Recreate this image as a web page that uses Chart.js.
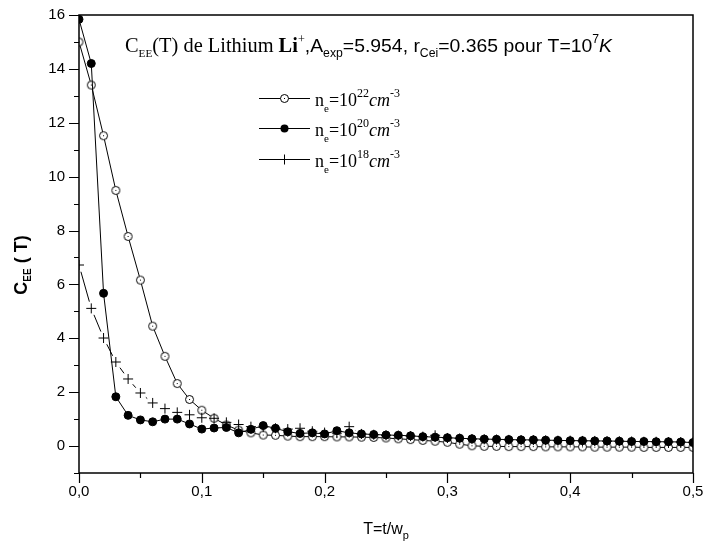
<!DOCTYPE html>
<html>
<head>
<meta charset="utf-8">
<script src="https://cdn.jsdelivr.net/npm/chart.js@4/dist/chart.umd.min.js"></script>
<style>
html,body{margin:0;padding:0;background:#fff;}
#wrap{width:708px;height:552px;position:relative;}
</style>
</head>
<body>
<div id="wrap"><canvas id="c"></canvas></div>
<script>
// ---- data ----
const tValues = [0.00,0.01,0.02,0.03,0.04,0.05,0.06,0.07,0.08,0.09,
  0.10,0.11,0.12,0.13,0.14,0.15,0.16,0.17,0.18,0.19,
  0.20,0.21,0.22,0.23,0.24,0.25,0.26,0.27,0.28,0.29,
  0.30,0.31,0.32,0.33,0.34,0.35,0.36,0.37,0.38,0.39,
  0.40,0.41,0.42,0.43,0.44,0.45,0.46,0.47,0.48,0.49,0.50];
const ne22 = [15.0,13.4,11.52,9.49,7.78,6.16,4.45,3.33,2.32,1.73,
  1.33,1.03,0.78,0.59,0.49,0.41,0.40,0.37,0.35,0.35,
  0.35,0.34,0.34,0.33,0.32,0.30,0.27,0.24,0.21,0.18,
  0.14,0.07,0.01,-0.01,-0.01,-0.02,-0.02,-0.02,-0.03,-0.03,
  -0.03,-0.03,-0.04,-0.04,-0.04,-0.04,-0.05,-0.05,-0.05,-0.05,-0.05];
const ne20 = [15.84,14.2,5.67,1.83,1.14,0.97,0.90,1.0,1.0,0.82,
  0.63,0.67,0.69,0.49,0.62,0.76,0.66,0.53,0.47,0.49,
  0.45,0.57,0.49,0.45,0.43,0.41,0.40,0.38,0.35,0.33,
  0.31,0.29,0.27,0.26,0.25,0.24,0.23,0.23,0.22,0.21,
  0.20,0.20,0.19,0.19,0.18,0.17,0.17,0.16,0.16,0.15,0.13];
const ne18 = [6.72,5.11,4.01,3.12,2.49,1.97,1.60,1.39,1.25,1.16,
  1.05,1.03,0.88,0.80,0.72,0.70,0.66,0.63,0.66,0.55,
  0.50,0.48,0.72,0.45,0.42,0.40,0.39,0.37,0.35,0.40,
  0.30,0.28,0.26,0.25,0.24,0.23,0.22,0.22,0.21,0.20,
  0.20,0.19,0.19,0.18,0.18,0.17,0.16,0.16,0.15,0.15,0.14];
const xTickLabels = ['0,0','0,1','0,2','0,3','0,4','0,5'];
const yTickLabels = ['0','2','4','6','8','10','12','14','16'];
const legendExps = ['22','20','18'];

const SERIF = '"Liberation Serif", "DejaVu Serif", serif';
const SANS = '"Liberation Sans", Arial, sans-serif';

// open circle with centre dot
function makeOpenCircle(){
  const cv = document.createElement('canvas');
  cv.width = 11; cv.height = 11;
  const g = cv.getContext('2d');
  g.beginPath(); g.arc(5.5,5.5,4,0,Math.PI*2);
  g.fillStyle='#fff'; g.fill();
  g.lineWidth=1; g.strokeStyle='#000'; g.stroke();
  g.fillStyle='#000'; g.fillRect(5,5,1,1);
  return cv;
}
const openCircle = makeOpenCircle();

function pts(arr){ return tValues.map((t,i)=>({x:t,y:arr[i]})); }

function drawRuns(ctx, x, y, runs){
  let cx = x;
  for (const r of runs){
    ctx.font = r.f;
    ctx.fillText(r.t, cx, y + (r.dy||0));
    cx += ctx.measureText(r.t).width;
  }
  return cx - x;
}
function runsWidth(ctx, runs){
  let w=0; for (const r of runs){ ctx.font=r.f; w+=ctx.measureText(r.t).width; } return w;
}

const gapDash = (g) => (sc) => {
  const L = Math.hypot(sc.p1.x - sc.p0.x, sc.p1.y - sc.p0.y);
  if (L <= 2*g) return [0, L + 0.0001];
  return [0, g, L - 2*g, g];
};

const decor = {
  id:'decor',
  afterDraw(chart){
    const ctx = chart.ctx;
    const a = chart.chartArea;
    const xs = chart.scales.x, ys = chart.scales.y;
    ctx.save();
    ctx.strokeStyle='#000'; ctx.fillStyle='#000';
    // frame
    ctx.lineWidth = 1.5;
    ctx.strokeRect(a.left, a.top, a.right-a.left, a.bottom-a.top);
    // y ticks
    ctx.lineWidth = 1.2;
    ctx.beginPath();
    for (let v=-1; v<=16; v++){
      const p = Math.round(ys.getPixelForValue(v)) + 0.5;
      const len = (v>=0 && v%2===0) ? 10 : 5;
      ctx.moveTo(a.left, p); ctx.lineTo(a.left-len, p);
    }
    // x ticks
    for (let k=0; k<=10; k++){
      const v = k*0.05;
      const p = Math.round(xs.getPixelForValue(v)) + 0.5;
      const len = (k%2===0) ? 10 : 5;
      ctx.moveTo(p, a.bottom); ctx.lineTo(p, a.bottom+len);
    }
    ctx.stroke();

    // title
    ctx.textBaseline='alphabetic';
    const titleRuns = [
      {t:'C', f:'20px '+SERIF},
      {t:'EE', f:'11px '+SERIF, dy:5},
      {t:'(T) de Lithium ', f:'20px '+SERIF},
      {t:'Li', f:'bold 20px '+SERIF},
      {t:'+', f:'12px '+SERIF, dy:-9},
      {t:',A', f:'19px '+SANS},
      {t:'exp', f:'12px '+SANS, dy:5},
      {t:'=5.954, r', f:'19px '+SANS},
      {t:'Cei', f:'12px '+SANS, dy:5},
      {t:'=0.365 pour T=10', f:'19px '+SANS},
      {t:'7', f:'12px '+SANS, dy:-9},
      {t:'K', f:'italic 19px '+SANS}
    ];
    const tw = runsWidth(ctx, titleRuns);
    const sc = 487 / tw;
    ctx.save();
    ctx.translate(125, 52);
    ctx.scale(sc, 1);
    drawRuns(ctx, 0, 0, titleRuns);
    ctx.restore();

    // legend
    const rows = [98, 128, 159];
    rows.forEach((y,i)=>{
      ctx.lineWidth = 1;
      ctx.beginPath(); ctx.moveTo(259, y+0.5); ctx.lineTo(310, y+0.5); ctx.stroke();
      const mx = 284.5, my = y+0.5;
      if (i===0){
        ctx.drawImage(openCircle, mx-5.5, my-5.5);
      } else if (i===1){
        ctx.beginPath(); ctx.arc(mx,my,4,0,Math.PI*2); ctx.fill();
      } else {
        ctx.beginPath(); ctx.moveTo(mx-5,my); ctx.lineTo(mx+5,my); ctx.moveTo(mx,my-5); ctx.lineTo(mx,my+5); ctx.stroke();
      }
      drawRuns(ctx, 315, y+8, [
        {t:'n', f:'18px '+SERIF},
        {t:'e', f:'11px '+SERIF, dy:6},
        {t:'=10', f:'18px '+SERIF},
        {t:legendExps[i], f:'12px '+SERIF, dy:-9},
        {t:'cm', f:'italic 18px '+SERIF},
        {t:'-3', f:'12px '+SERIF, dy:-9}
      ]);
    });

    // x axis title
    const xRuns = [{t:'T=t/w', f:'16px '+SANS},{t:'p', f:'11px '+SANS, dy:5}];
    const xw = runsWidth(ctx, xRuns);
    drawRuns(ctx, (a.left+a.right)/2 - xw/2, 534, xRuns);

    // y axis title
    const yRuns = [{t:'C', f:'bold 18px '+SANS},{t:'EE', f:'bold 10px '+SANS, dy:4},{t:' ( T)', f:'bold 18px '+SANS}];
    const yw = runsWidth(ctx, yRuns);
    ctx.translate(27, 265);
    ctx.rotate(-Math.PI/2);
    drawRuns(ctx, -yw/2, 0, yRuns);
    ctx.restore();
  }
};

Chart.defaults.font.family = SANS;
Chart.defaults.color = '#000';

new Chart(document.getElementById('c'), {
  type:'line',
  data:{
    datasets:[
      { label:'n_e=10^18', data:pts(ne18), borderColor:'#000', borderWidth:1,
        pointStyle:'cross', pointRadius:5, pointBorderWidth:1, pointBorderColor:'#000',
        segment:{ borderDash: gapDash(7) }, tension:0 },
      { label:'n_e=10^20', data:pts(ne20), borderColor:'#000', borderWidth:1,
        pointStyle:'circle', pointRadius:4, pointBackgroundColor:'#000', pointBorderColor:'#000', pointBorderWidth:1, tension:0 },
      { label:'n_e=10^22', data:pts(ne22), borderColor:'#000', borderWidth:1,
        pointStyle:openCircle, pointRadius:4, tension:0 }
    ]
  },
  options:{
    responsive:true, maintainAspectRatio:false, animation:false,
    layout:{ padding:{ top:15, right:15, left:0, bottom:0 } },
    plugins:{ legend:{display:false}, tooltip:{enabled:false}, title:{display:false} },
    scales:{
      x:{ type:'linear', min:0, max:0.5,
        grid:{display:false, drawTicks:false}, border:{display:false},
        afterFit(s){ s.height = 79; s.paddingLeft = 0; s.paddingRight = 0; },
        afterBuildTicks(s){ s.ticks = xTickLabels.map((l,i)=>({value:i*0.1, label:l})); },
        ticks:{ autoSkip:false, maxRotation:0, padding:10, font:{size:15},
          callback:(v,i)=>xTickLabels[i] }
      },
      y:{ type:'linear', min:-1, max:16,
        grid:{display:false, drawTicks:false}, border:{display:false},
        afterFit(s){ s.width = 79; s.paddingTop = 0; s.paddingBottom = 0; },
        afterBuildTicks(s){ s.ticks = yTickLabels.map((l,i)=>({value:i*2, label:l})); },
        ticks:{ autoSkip:false, padding:14, font:{size:15},
          callback:(v,i)=>yTickLabels[i] }
      }
    }
  },
  plugins:[decor]
});
</script>
</body>
</html>
